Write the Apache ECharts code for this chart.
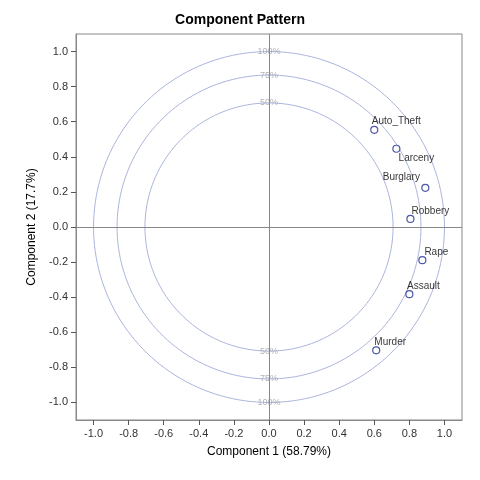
<!DOCTYPE html>
<html><head><meta charset="utf-8">
<script src="https://cdn.jsdelivr.net/npm/echarts@6/dist/echarts.min.js"></script>
<style>html,body{margin:0;padding:0;background:#fff}#c{width:480px;height:480px}</style>
</head><body><div id="c"></div>
<script>
const names=['Auto_Theft','Larceny','Burglary','Robbery','Rape','Assault','Murder'];
const comp1=[0.60,0.726,0.891,0.806,0.874,0.80,0.611];
const comp2=[0.554,0.446,0.223,0.046,-0.189,-0.383,-0.703];
const labelPos=['top','bottom','top','top','top','top','top'];
const labelOff=[[22,3],[20,-2],[-24,0],[20,3],[14,3],[14,3],[14,3]];
const ticks=[-1.0,-0.8,-0.6,-0.4,-0.2,0.0,0.2,0.4,0.6,0.8,1.0];
const circlePct=[1.0,0.75,0.5];
const circleLabels=['100%','75%','50%'];

function circ(r){const a=[];for(let i=0;i<=180;i++){const t=i/180*2*Math.PI;a.push([r*Math.cos(t),r*Math.sin(t)]);}return a;}
const series=[];
circlePct.forEach((p,i)=>{
  const r=Math.sqrt(p);
  series.push({type:'line',data:circ(r),showSymbol:false,silent:true,lineStyle:{color:'#aab4dc',width:1},z:1});
  series.push({type:'scatter',symbolSize:0,silent:true,data:[[0,r],[0,-r]],
    label:{show:true,formatter:circleLabels[i],position:'inside',color:'#a0a0a8',fontSize:9,fontFamily:'Arial'}});
});
series.push({type:'scatter',z:5,symbol:'circle',symbolSize:7,
  itemStyle:{color:'#fff',borderColor:'#1f2d8c',borderWidth:1.2},
  data:names.map((n,i)=>({value:[comp1[i],comp2[i]],name:n,
    label:{show:true,formatter:n,position:labelPos[i],distance:2,color:'#000',fontSize:10,fontFamily:'Arial',
      offset:labelOff[i]}}))});
series.push({type:'line',data:[],markLine:{silent:true,symbol:'none',label:{show:false},lineStyle:{color:'#888',type:'solid',width:1},data:[{xAxis:0},{yAxis:0}]}});

const axisCommon={type:'value',min:-1.1,max:1.1,
  axisLine:{show:true,onZero:false,lineStyle:{color:'#888'}},
  axisTick:{show:true,customValues:ticks,lineStyle:{color:'#555'}},
  splitLine:{show:false},
  axisLabel:{color:'#333',fontSize:11,fontFamily:'Arial',customValues:ticks,formatter:v=>v.toFixed(1)},
  nameLocation:'middle',nameTextStyle:{color:'#000',fontSize:12,fontFamily:'Arial'}};
const chart=echarts.init(document.getElementById('c'));
chart.setOption({animation:false,
  title:{text:'Component Pattern',left:'center',top:8,textStyle:{fontSize:14,fontWeight:'bold',fontFamily:'Arial',color:'#000'}},
  grid:{left:76,right:18,top:34,bottom:60,show:true,borderColor:'#888',borderWidth:1},
  xAxis:Object.assign({},axisCommon,{name:'Component 1 (58.79%)',nameGap:26}),
  yAxis:Object.assign({},axisCommon,{name:'Component 2 (17.7%)',nameGap:38}),
  series});
</script></body></html>
